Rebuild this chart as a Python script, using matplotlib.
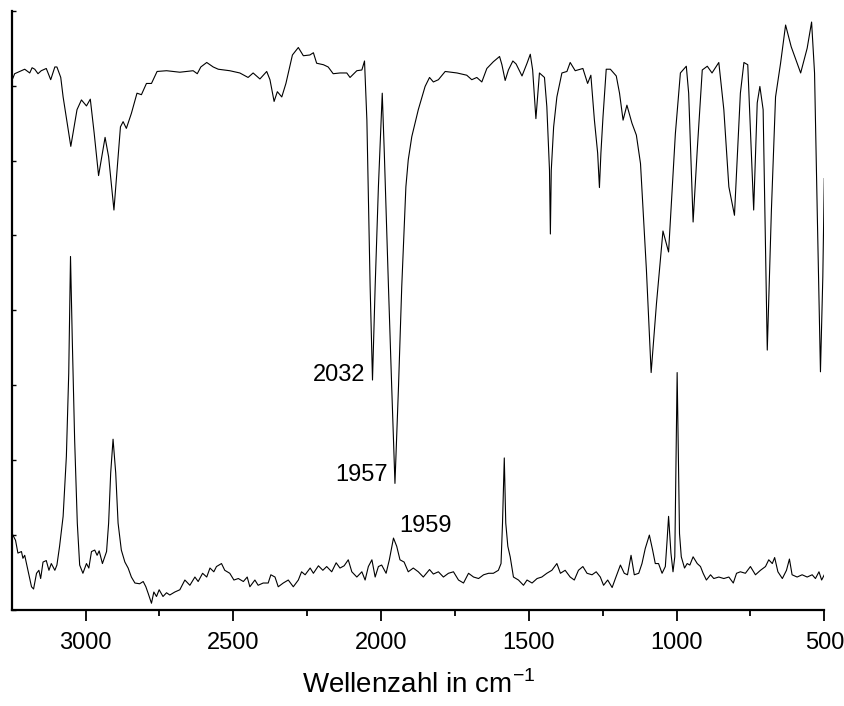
import numpy as np
import matplotlib
matplotlib.use("Agg")
import matplotlib.pyplot as plt
from matplotlib.ticker import MultipleLocator

plt.rcParams.update({"font.family": ["Liberation Sans", "DejaVu Sans"]})

# IR spectrum (top trace), wavenumber in cm^-1 and intensity (a.u.)
ir_wn = [3246, 3240, 3206, 3189, 3181, 3172, 3161, 3150, 3133, 3118, 3104, 3097, 3084,
         3076, 3050, 3029, 3014, 2997, 2984, 2971, 2956, 2934, 2922, 2904, 2882, 2873,
         2862, 2845, 2826, 2811, 2794, 2777, 2758, 2726, 2681, 2636, 2622, 2610, 2590,
         2568, 2551, 2512, 2478, 2450, 2433, 2410, 2387, 2376, 2362, 2351, 2336, 2322,
         2300, 2280, 2263, 2241, 2229, 2218, 2195, 2179, 2162, 2139, 2116, 2105, 2082,
         2065, 2056, 2048, 2037, 2029, 2020, 2009, 1996, 1989, 1975, 1964, 1953, 1941,
         1930, 1916, 1908, 1896, 1874, 1851, 1836, 1823, 1806, 1783, 1743, 1710, 1693,
         1676, 1659, 1642, 1620, 1599, 1591, 1580, 1569, 1554, 1543, 1523, 1506, 1495,
         1487, 1476, 1464, 1447, 1439, 1430, 1427, 1424, 1416, 1405, 1388, 1371, 1360,
         1343, 1317, 1301, 1290, 1278, 1267, 1261, 1256, 1249, 1238, 1224, 1204, 1193,
         1181, 1168, 1151, 1136, 1122, 1102, 1086, 1068, 1046, 1027, 1004, 987, 967,
         959, 944, 930, 913, 896, 880, 857, 840, 823, 804, 784, 772, 759, 739, 727,
         718, 707, 693, 679, 665, 648, 631, 612, 580, 558, 543, 533, 524, 513, 505, 500]
ir_int = [7.10, 7.16, 7.22, 7.17, 7.24, 7.22, 7.16, 7.20, 7.23, 7.08, 7.25, 7.25, 7.11,
          6.85, 6.19, 6.68, 6.81, 6.73, 6.82, 6.37, 5.80, 6.31, 6.05, 5.34, 6.45, 6.52,
          6.43, 6.63, 6.90, 6.88, 7.03, 7.03, 7.19, 7.20, 7.18, 7.20, 7.16, 7.25, 7.31,
          7.25, 7.22, 7.20, 7.17, 7.11, 7.17, 7.09, 7.19, 7.08, 6.79, 6.92, 6.85, 7.03,
          7.41, 7.51, 7.40, 7.41, 7.44, 7.30, 7.28, 7.25, 7.16, 7.17, 7.17, 7.11, 7.20,
          7.21, 7.33, 6.54, 4.32, 3.07, 4.32, 5.65, 6.90, 6.10, 4.32, 2.98, 1.69, 2.98,
          4.32, 5.65, 6.01, 6.32, 6.68, 6.99, 7.11, 7.05, 7.08, 7.19, 7.17, 7.14, 7.08,
          7.11, 7.05, 7.23, 7.32, 7.39, 7.28, 7.07, 7.21, 7.33, 7.29, 7.13, 7.30, 7.42,
          7.21, 6.56, 7.17, 7.11, 6.72, 5.87, 5.02, 5.87, 6.45, 6.85, 7.17, 7.19, 7.31,
          7.20, 7.23, 7.03, 7.14, 6.54, 6.10, 5.64, 6.10, 6.58, 7.22, 7.22, 7.13, 6.90,
          6.54, 6.74, 6.50, 6.34, 5.96, 4.54, 3.17, 4.09, 5.06, 4.78, 6.36, 7.17, 7.26,
          6.90, 5.18, 6.14, 7.21, 7.26, 7.17, 7.31, 6.68, 5.65, 5.27, 6.90, 7.31, 7.28,
          5.34, 6.77, 6.99, 6.68, 3.47, 5.34, 6.85, 7.30, 7.81, 7.52, 7.17, 7.50, 7.85,
          7.17, 5.34, 3.18, 4.45, 5.76]

# Raman spectrum (bottom trace)
ra_wn = [3246, 3237, 3229, 3217, 3212, 3206, 3195, 3183, 3176, 3166, 3158, 3152, 3144,
         3133, 3124, 3116, 3104, 3097, 3088, 3076, 3065, 3057, 3051, 3045, 3037, 3028,
         3020, 3009, 2997, 2989, 2980, 2969, 2961, 2954, 2943, 2929, 2922, 2915, 2907,
         2898, 2890, 2879, 2867, 2856, 2845, 2833, 2817, 2805, 2796, 2788, 2777, 2769,
         2760, 2751, 2738, 2726, 2715, 2698, 2681, 2664, 2647, 2630, 2619, 2604, 2590,
         2579, 2566, 2557, 2540, 2529, 2512, 2498, 2483, 2466, 2453, 2444, 2427, 2416,
         2399, 2382, 2373, 2359, 2348, 2331, 2314, 2297, 2280, 2269, 2257, 2240, 2229,
         2212, 2197, 2184, 2167, 2152, 2139, 2125, 2111, 2099, 2082, 2065, 2054, 2043,
         2031, 2020, 2009, 1998, 1983, 1972, 1958, 1947, 1936, 1922, 1908, 1891, 1874,
         1857, 1836, 1823, 1806, 1789, 1772, 1755, 1738, 1721, 1704, 1687, 1670, 1653,
         1636, 1620, 1603, 1594, 1589, 1583, 1578, 1571, 1563, 1552, 1535, 1518, 1506,
         1489, 1472, 1456, 1439, 1422, 1405, 1393, 1377, 1360, 1346, 1332, 1317, 1303,
         1286, 1272, 1258, 1247, 1233, 1218, 1207, 1190, 1177, 1166, 1154, 1143, 1128,
         1117, 1106, 1092, 1081, 1072, 1061, 1049, 1038, 1032, 1027, 1019, 1012, 1006,
         998, 990, 984, 973, 964, 955, 944, 930, 919, 910, 899, 885, 874, 857, 840, 823,
         808, 797, 784, 767, 750, 733, 716, 699, 688, 676, 668, 657, 642, 628, 618, 609,
         592, 575, 558, 541, 530, 518, 509, 500]
ra_int = [1.00, 0.93, 0.76, 0.78, 0.69, 0.73, 0.53, 0.31, 0.28, 0.49, 0.53, 0.42, 0.64,
          0.66, 0.53, 0.62, 0.53, 0.60, 0.85, 1.25, 2.05, 3.16, 4.72, 3.61, 2.27, 1.16,
          0.60, 0.49, 0.62, 0.56, 0.78, 0.80, 0.73, 0.79, 0.62, 0.78, 1.16, 1.83, 2.28,
          1.83, 1.16, 0.80, 0.64, 0.56, 0.44, 0.36, 0.35, 0.38, 0.31, 0.22, 0.09, 0.24,
          0.18, 0.27, 0.18, 0.23, 0.20, 0.24, 0.27, 0.40, 0.33, 0.44, 0.38, 0.49, 0.44,
          0.56, 0.51, 0.58, 0.62, 0.53, 0.49, 0.40, 0.42, 0.38, 0.44, 0.31, 0.40, 0.33,
          0.36, 0.36, 0.47, 0.44, 0.31, 0.36, 0.40, 0.31, 0.40, 0.51, 0.47, 0.56, 0.49,
          0.59, 0.53, 0.58, 0.51, 0.63, 0.56, 0.59, 0.67, 0.51, 0.44, 0.51, 0.40, 0.58,
          0.67, 0.44, 0.58, 0.60, 0.49, 0.67, 0.96, 0.85, 0.67, 0.64, 0.51, 0.56, 0.51,
          0.44, 0.54, 0.48, 0.51, 0.44, 0.49, 0.51, 0.40, 0.36, 0.49, 0.44, 0.42, 0.47,
          0.49, 0.49, 0.53, 0.62, 1.16, 2.03, 1.16, 0.85, 0.71, 0.44, 0.40, 0.33, 0.40,
          0.36, 0.42, 0.44, 0.49, 0.53, 0.62, 0.49, 0.53, 0.44, 0.40, 0.53, 0.58, 0.49,
          0.47, 0.51, 0.44, 0.33, 0.40, 0.30, 0.42, 0.60, 0.49, 0.47, 0.73, 0.47, 0.49,
          0.62, 0.82, 1.00, 0.80, 0.62, 0.62, 0.49, 0.58, 0.93, 1.25, 0.76, 0.51, 0.71,
          3.17, 1.02, 0.71, 0.56, 0.62, 0.60, 0.71, 0.62, 0.58, 0.49, 0.40, 0.47, 0.42,
          0.44, 0.42, 0.44, 0.36, 0.49, 0.51, 0.49, 0.58, 0.47, 0.53, 0.58, 0.67, 0.62,
          0.70, 0.51, 0.42, 0.53, 0.68, 0.47, 0.44, 0.47, 0.44, 0.47, 0.42, 0.51, 0.40,
          0.47]

# band labels: text, anchor wavenumber, anchor height, horizontal alignment
band_text = ["2032", "1957", "1959"]
band_wn = [2054, 1976, 1938]
band_y = [3.14, 1.80, 1.12]
band_ha = ["right", "right", "left"]

fig = plt.figure(figsize=(8.45, 7.06), dpi=100)
ax = fig.add_axes([0.0142, 0.136, 0.9613, 0.8487])

ax.plot(ir_wn, ir_int, color="black", lw=0.8)
ax.plot(ra_wn, ra_int, color="black", lw=0.8)

for t, x, y, ha in zip(band_text, band_wn, band_y, band_ha):
    ax.text(x, y, t, fontsize=17, ha=ha, va="center")

ax.set_xlim(3249, 500)
ax.set_ylim(0, 8)
ax.xaxis.set_major_locator(MultipleLocator(500))
ax.xaxis.set_minor_locator(MultipleLocator(250))
ax.yaxis.set_major_locator(MultipleLocator(1))
ax.set_yticklabels([])

for s in ("top", "right"):
    ax.spines[s].set_visible(False)
for s in ("left", "bottom"):
    ax.spines[s].set_linewidth(1.6)

ax.tick_params(axis="x", which="major", direction="out", length=8, width=1.3,
               labelsize=17, pad=8)
ax.tick_params(axis="x", which="minor", direction="out", length=4.5, width=1.3)
ax.tick_params(axis="y", which="major", direction="in", length=3, width=1.0)

ax.set_xlabel("Wellenzahl in cm$^{\\mathregular{-1}}$", fontsize=20, labelpad=12)

fig.savefig("out.png", dpi=100)
